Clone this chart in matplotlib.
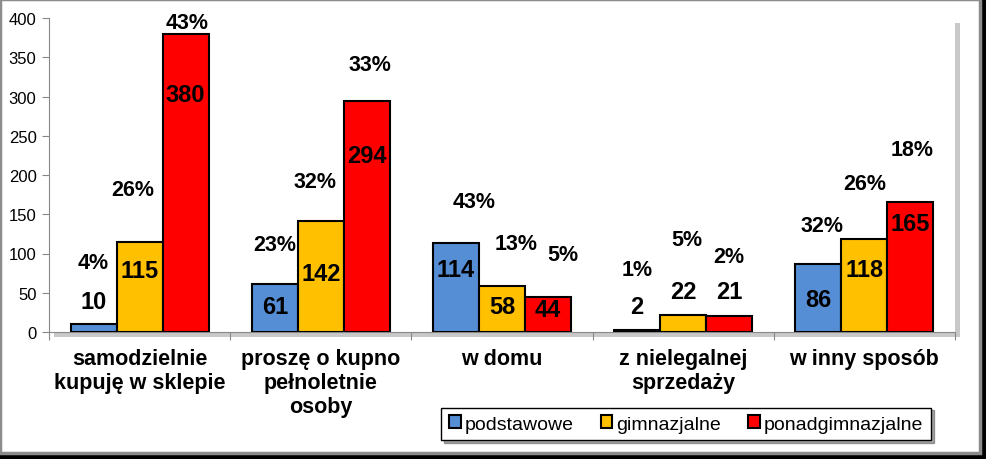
import numpy as np
import matplotlib.pyplot as plt
from matplotlib.patches import Rectangle

plt.rcParams['font.family'] = ['Liberation Sans', 'DejaVu Sans']

categories = ['samodzielnie\nkupuję w sklepie', 'proszę o kupno\npełnoletnie\nosoby',
              'w domu', 'z nielegalnej\nsprzedaży', 'w inny sposób']
series = ['podstawowe', 'gimnazjalne', 'ponadgimnazjalne']
colors = ['#558ed5', '#ffc000', '#ff0000']

podstawowe = [10, 61, 114, 2, 86]
gimnazjalne = [115, 142, 58, 22, 118]
ponadgimnazjalne = [380, 294, 44, 21, 165]

pct_podstawowe = ['4%', '23%', '43%', '1%', '32%']
pct_gimnazjalne = ['26%', '32%', '13%', '5%', '26%']
pct_ponadgimnazjalne = ['43%', '33%', '5%', '2%', '18%']

# label placement (data units), as hand-placed in the original chart
val_y = [[39, 33, 80, 32, 42],
         [78, 74, 32, 52, 79],
         [303, 225, 29, 52, 138]]
pct_y = [[89, 111, 166, 80, 136],
         [182, 192, 113, 118, 189],
         [394, 341, 99, 96, 232]]
pct_dx = [[0, 0, 0.1, 0, 0.02],
          [-0.04, -0.03, 0.08, 0.02, 0],
          [0.01, 0.02, 0.08, 0, 0.01]]

values = [podstawowe, gimnazjalne, ponadgimnazjalne]
pcts = [pct_podstawowe, pct_gimnazjalne, pct_ponadgimnazjalne]

W, H = 986, 460
fig = plt.figure(figsize=(W / 100, H / 100), dpi=100)
fig.patch.set_facecolor('black')
fig.patches.append(Rectangle((0, 6 / H), 980 / W, 454 / H, transform=fig.transFigure,
                             facecolor='white', edgecolor='#8c8c8c', lw=2.5, zorder=0))

ax_l, ax_r, ax_b, ax_t = 49, 955, 333, 19
pos = [ax_l / W, (H - ax_b) / H, (ax_r - ax_l) / W, (ax_b - ax_t) / H]
# plot area shadow
fig.patches.append(Rectangle((pos[0] + 5 / W, pos[1] - 5 / H), pos[2], pos[3],
                             transform=fig.transFigure, facecolor='#c8c8c8',
                             edgecolor='none', zorder=0.5))
ax = fig.add_axes(pos)
ax.set_zorder(1)

x = np.arange(len(categories))
bw = 0.254
for i, (vals, col) in enumerate(zip(values, colors)):
    xs = x + (i - 1) * bw
    ax.bar(xs, vals, width=bw, color=col, edgecolor='black', linewidth=1.5,
           label=series[i], zorder=3)
    for j in range(len(x)):
        ax.text(xs[j], val_y[i][j], str(vals[j]), ha='center', va='center',
                fontsize=17, fontweight='bold', zorder=4)
        ax.text(xs[j] + pct_dx[i][j], pct_y[i][j], pcts[i][j], ha='center', va='center',
                fontsize=15.5, fontweight='bold', zorder=4)

ax.set_xlim(-0.5, len(categories) - 0.5)
ax.set_ylim(0, 400)
ax.set_yticks(np.arange(0, 401, 50))
ax.tick_params(axis='y', labelsize=12, length=5, color='#888888', pad=4)
ax.set_xticks(np.arange(-0.5, len(categories), 1.0))
ax.set_xticklabels([])
ax.tick_params(axis='x', length=6, color='#888888')
for j, c in enumerate(categories):
    ax.text(j, -20, c, ha='center', va='top', fontsize=15.5, fontweight='bold',
            linespacing=1.2)
for s in ['top', 'right']:
    ax.spines[s].set_visible(False)
for s in ['left', 'bottom']:
    ax.spines[s].set_color('#888888')

leg = ax.legend(loc='center', bbox_to_anchor=(686 / W, (H - 425) / H),
                bbox_transform=fig.transFigure, ncol=3, fontsize=14, frameon=True,
                fancybox=False, shadow=True, handlelength=0.6, handleheight=0.6,
                handletextpad=0.2, columnspacing=1.4, borderpad=0.4)
leg.get_frame().set_edgecolor('black')
leg.get_frame().set_linewidth(1.0)

fig.savefig('out.png', dpi=100, facecolor=fig.get_facecolor())
